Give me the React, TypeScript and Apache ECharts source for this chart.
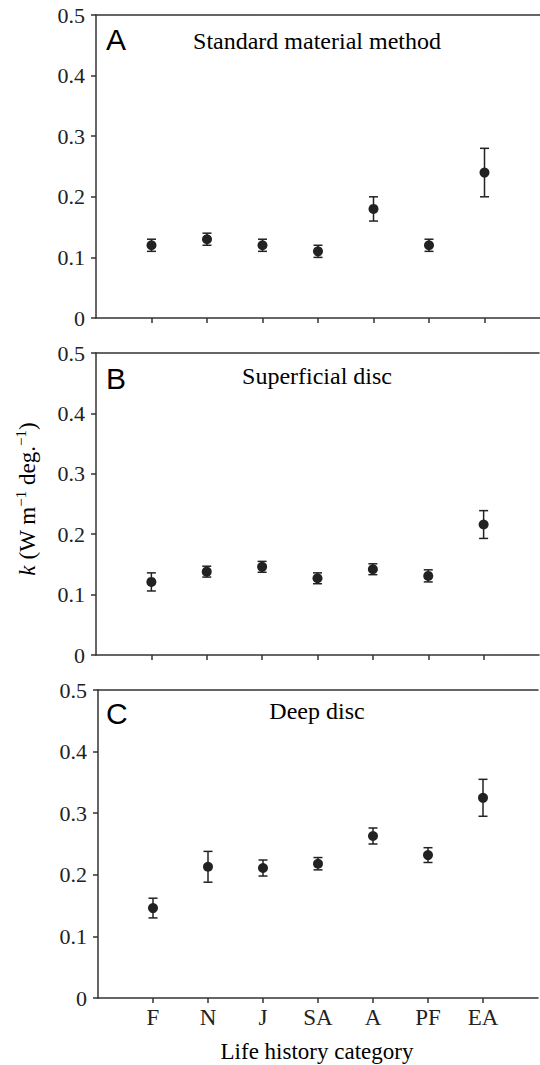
import React, { useEffect, useRef } from 'react';
import * as echarts from 'echarts';

const categories = ['F', 'N', 'J', 'SA', 'A', 'PF', 'EA'];
const categoryPositions = [1, 2, 3, 4, 5, 6, 7];
const panelLetters = ['A', 'B', 'C'];
const panelTitles = ['Standard material method', 'Superficial disc', 'Deep disc'];

const standardMean = [0.12, 0.13, 0.12, 0.11, 0.18, 0.12, 0.24];
const standardErr = [0.01, 0.01, 0.01, 0.01, 0.02, 0.01, 0.04];
const superficialMean = [0.121, 0.138, 0.146, 0.127, 0.142, 0.131, 0.216];
const superficialErr = [0.015, 0.009, 0.009, 0.009, 0.009, 0.01, 0.023];
const deepMean = [0.146, 0.213, 0.211, 0.218, 0.263, 0.232, 0.325];
const deepErr = [0.016, 0.025, 0.013, 0.01, 0.013, 0.012, 0.03];

const yMin = 0;
const yMax = 0.5;
const yStep = 0.1;

const means = [standardMean, superficialMean, deepMean];
const errs = [standardErr, superficialErr, deepErr];

const grids = [
  { left: 96, top: 15, width: 446, height: 303 },
  { left: 96, top: 353, width: 443, height: 302 },
  { left: 98, top: 690, width: 440, height: 308 },
];
const letterY = [39, 378, 713];
const titleY = [40.5, 376, 711];

const SERIF = '"Liberation Serif", "Times New Roman", serif';
const SANS = '"Liberation Sans", Arial, sans-serif';
const INK = '#222';
const AXIS = '#333';

export default function App() {
  const ref = useRef<HTMLDivElement>(null);
  useEffect(() => {
    const chart = echarts.init(ref.current!, null, { renderer: 'svg' });
    const xAxis: any[] = [];
    const yAxis: any[] = [];
    const series: any[] = [];
    grids.forEach((g, i) => {
      xAxis.push({
        type: 'value',
        gridIndex: i,
        position: 'bottom',
        min: 0,
        max: 8,
        interval: 1,
        splitLine: { show: false },
        axisLine: { show: true, onZero: false, lineStyle: { color: AXIS, width: 1.5 } },
        axisTick: {
          show: true,
          customValues: categoryPositions,
          length: 5,
          lineStyle: { color: AXIS, width: 1.5 },
        },
        axisLabel: {
          show: i === 2,
          customValues: categoryPositions,
          formatter: (v: number) => categories[Math.round(v) - 1] ?? '',
          fontFamily: SERIF,
          fontSize: 23,
          color: INK,
          margin: 8,
        },
      });
      // top frame line
      xAxis.push({
        type: 'value',
        gridIndex: i,
        position: 'top',
        min: 0,
        max: 8,
        interval: 1,
        splitLine: { show: false },
        axisLine: { show: true, onZero: false, lineStyle: { color: AXIS, width: 1.5 } },
        axisTick: { show: false },
        axisLabel: { show: false },
      });
      yAxis.push({
        type: 'value',
        gridIndex: i,
        min: yMin,
        max: yMax,
        interval: yStep,
        splitLine: { show: false },
        axisLine: { show: true, onZero: false, lineStyle: { color: AXIS, width: 1.5 } },
        axisTick: { show: true, length: 5, lineStyle: { color: AXIS, width: 1.5 } },
        axisLabel: {
          fontFamily: SERIF,
          fontSize: 22,
          color: INK,
          margin: 11,
          formatter: (v: number) => (v === 0 ? '0' : v.toFixed(1)),
        },
      });
      const m = means[i];
      const e = errs[i];
      series.push({
        type: 'custom',
        xAxisIndex: i * 2,
        yAxisIndex: i,
        data: categoryPositions.map((p, k) => [p, m[k] - e[k], m[k] + e[k]]),
        encode: { x: 0, y: [1, 2] },
        renderItem: (params: any, api: any) => {
          const x = api.value(0);
          const lo = api.coord([x, api.value(1)]);
          const hi = api.coord([x, api.value(2)]);
          const w = 4.5;
          const style = { stroke: INK, lineWidth: 1.5 };
          return {
            type: 'group',
            children: [
              { type: 'line', shape: { x1: lo[0], y1: lo[1], x2: hi[0], y2: hi[1] }, style },
              { type: 'line', shape: { x1: lo[0] - w, y1: lo[1], x2: lo[0] + w, y2: lo[1] }, style },
              { type: 'line', shape: { x1: hi[0] - w, y1: hi[1], x2: hi[0] + w, y2: hi[1] }, style },
            ],
          };
        },
        z: 2,
      });
      series.push({
        type: 'scatter',
        xAxisIndex: i * 2,
        yAxisIndex: i,
        data: categoryPositions.map((p, k) => [p, m[k]]),
        symbol: 'circle',
        symbolSize: 10,
        itemStyle: { color: INK, opacity: 1 },
        z: 3,
      });
    });

    const graphic: any[] = [];
    grids.forEach((g, i) => {
      graphic.push({
        type: 'text',
        x: 106,
        y: letterY[i],
        style: {
          text: panelLetters[i],
          font: `30px ${SANS}`,
          fill: '#000',
          align: 'left',
          verticalAlign: 'middle',
        },
      });
      graphic.push({
        type: 'text',
        x: 317,
        y: titleY[i],
        style: {
          text: panelTitles[i],
          font: `24px ${SERIF}`,
          fill: '#000',
          align: 'center',
          verticalAlign: 'middle',
        },
      });
    });
    graphic.push({
      type: 'text',
      x: 317,
      y: 1051,
      style: {
        text: 'Life history category',
        font: `23px ${SERIF}`,
        fill: '#000',
        align: 'center',
        verticalAlign: 'middle',
      },
    });
    graphic.push({
      type: 'text',
      x: 26,
      y: 499,
      rotation: Math.PI / 2,
      style: {
        text: '{i|k}{n| (W m}{s|−1}{n| deg.}{s|−1}{n|)}',
        align: 'center',
        verticalAlign: 'middle',
        fill: '#000',
        fontFamily: SERIF,
        fontSize: 23,
        rich: {
          i: { fontFamily: SERIF, fontSize: 23, fontStyle: 'italic', lineHeight: 25, verticalAlign: 'bottom' },
          n: { fontFamily: SERIF, fontSize: 23, lineHeight: 25, verticalAlign: 'bottom' },
          s: { fontFamily: SERIF, fontSize: 15, lineHeight: 25, verticalAlign: 'top' },
        },
      },
    });

    chart.setOption({
      animation: false,
      backgroundColor: '#fff',
      grid: grids.map((g) => ({ ...g, show: false, containLabel: false })),
      xAxis,
      yAxis,
      series,
      graphic,
    });
    return () => chart.dispose();
  }, []);
  return (
    <div
      ref={ref}
      style={{ position: 'absolute', left: 0, top: 0, width: 540, height: 1065 }}
    />
  );
}
